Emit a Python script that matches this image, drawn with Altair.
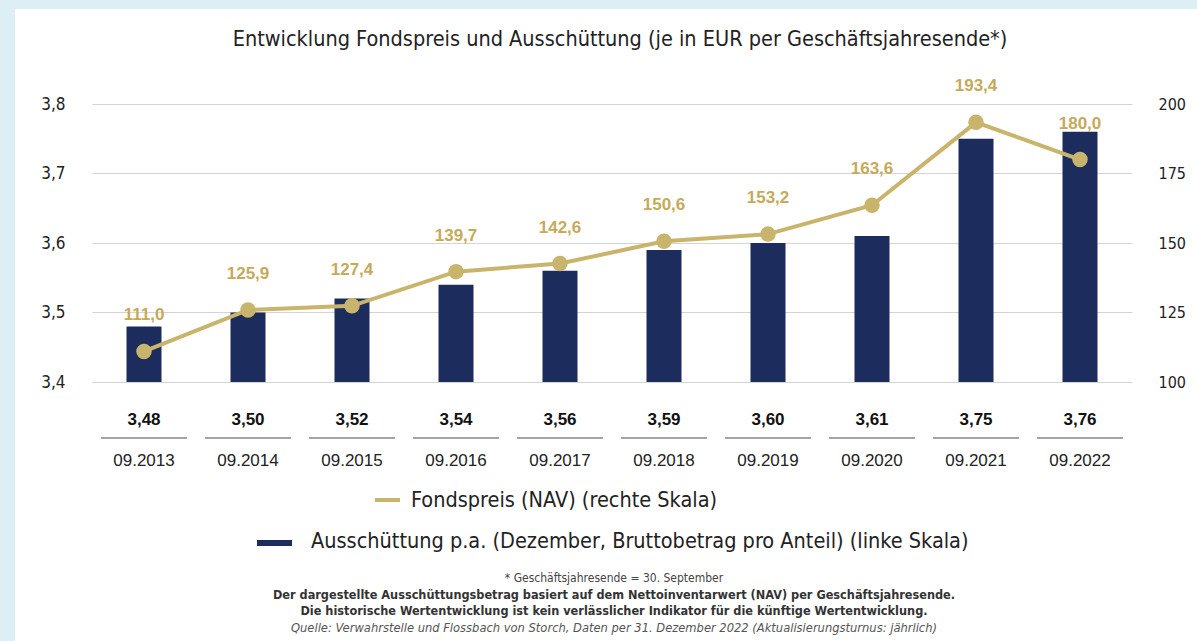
import altair as alt
import pandas as pd

# ---- data ----
years = ["09.2013", "09.2014", "09.2015", "09.2016", "09.2017",
         "09.2018", "09.2019", "09.2020", "09.2021", "09.2022"]
distribution = [3.48, 3.50, 3.52, 3.54, 3.56, 3.59, 3.60, 3.61, 3.75, 3.76]
nav = [111.0, 125.9, 127.4, 139.7, 142.6, 150.6, 153.2, 163.6, 193.4, 180.0]
left_ticks = [3.4, 3.5, 3.6, 3.7, 3.8]
right_ticks = [100, 125, 150, 175, 200]

title_text = "Entwicklung Fondspreis und Ausschüttung  (je in EUR per Geschäftsjahresende*)"
legend_nav = "Fondspreis (NAV) (rechte Skala)"
legend_dist = "Ausschüttung p.a. (Dezember, Bruttobetrag pro Anteil) (linke Skala)"
foot1 = "* Geschäftsjahresende = 30. September"
foot2 = "Der dargestellte Ausschüttungsbetrag basiert auf dem Nettoinventarwert (NAV) per Geschäftsjahresende."
foot3 = "Die historische Wertentwicklung ist kein verlässlicher Indikator für die künftige Wertentwicklung."
foot4 = "Quelle: Verwahrstelle und Flossbach von Storch, Daten per 31. Dezember 2022 (Aktualisierungsturnus: jährlich)"

# ---- style ----
NAVY = "#1c2c5c"
GOLD = "#c9b46c"
GOLD_TXT = "#c6aa5a"
BLUE_BG = "#ddeef4"
TXT = "#222222"
NARROW = "Liberation Sans Narrow, DejaVu Sans Condensed, sans-serif"
SANS = "Liberation Sans, Arial, sans-serif"

W, H = 1023, 278

df = pd.DataFrame({"year": years, "dist": distribution, "nav": nav})
df["dist_label"] = [f"{v:.2f}".replace(".", ",") for v in distribution]
df["nav_label"] = [f"{v:.1f}".replace(".", ",") for v in nav]
one = pd.DataFrame({"k": [0]})

xenc = alt.X("year:N", sort=years,
             scale=alt.Scale(range=[-8, 1032], paddingInner=0, paddingOuter=0),
             axis=None)

base = alt.Chart(df)

# background strips (light blue frame on the left and top)
strip_left = alt.Chart(one).mark_rect(color=BLUE_BG).encode(
    x=alt.value(-100), x2=alt.value(-85), y=alt.value(-104), y2=alt.value(537))
strip_top = alt.Chart(one).mark_rect(color=BLUE_BG).encode(
    x=alt.value(-100), x2=alt.value(1097), y=alt.value(-104), y2=alt.value(-95))

left_axis = alt.Axis(values=left_ticks,
                     labelExpr="replace(format(datum.value, '.1f'), '.', ',')",
                     grid=True, gridColor="#d4d4d4", gridWidth=1,
                     domain=False, ticks=False, labelPadding=35,
                     labelFont=NARROW, labelFontSize=17, labelColor=TXT, title=None)
right_axis = alt.Axis(orient="right", values=right_ticks, format="d",
                      grid=False, domain=False, ticks=False, labelPadding=35,
                      labelFont=NARROW, labelFontSize=16, labelColor=TXT, title=None)

bars = base.mark_bar(size=35, color=NAVY).encode(
    x=xenc,
    y=alt.Y("dist:Q", scale=alt.Scale(domain=[3.4, 3.8], zero=False, nice=False),
            axis=left_axis),
    y2=alt.datum(3.4),
)

ynav = alt.Y("nav:Q", scale=alt.Scale(domain=[100, 200], zero=False, nice=False),
             axis=right_axis)
line = base.mark_line(color=GOLD, strokeWidth=4).encode(x=xenc, y=ynav)
pts = base.mark_circle(size=240, color=GOLD, opacity=1).encode(x=xenc, y=ynav)
navlab = base.mark_text(dy=-36, font=SANS, fontSize=17, fontWeight="bold",
                        color=GOLD_TXT).encode(x=xenc, y=ynav, text="nav_label:N")
right_layer = alt.layer(line, pts, navlab)

# table below the chart
vals = base.mark_text(font=SANS, fontSize=17, fontWeight="bold", color="#111",
                      baseline="middle").encode(
    x=xenc, y=alt.value(316), text="dist_label:N")
underline = base.mark_tick(orient="horizontal", size=86, thickness=1.5,
                           color="#555555").encode(x=xenc, y=alt.value(334))
yearlab = base.mark_text(font=SANS, fontSize=17, color=TXT, baseline="middle").encode(
    x=xenc, y=alt.value(357), text="year:N")


def label(text, x, y, size, align="center", weight="normal", style="normal",
          color=TXT, font=NARROW):
    return alt.Chart(one).mark_text(text=text, align=align, baseline="middle",
                                    fontSize=size, fontWeight=weight,
                                    fontStyle=style, color=color, font=font).encode(
        x=alt.value(x), y=alt.value(y))


title = label(title_text, 520, -64, 21.5)

leg_line = alt.Chart(one).mark_rule(color=GOLD, strokeWidth=4).encode(
    x=alt.value(275), x2=alt.value(300), y=alt.value(396))
leg_line_txt = label(legend_nav, 311, 397, 21.5, align="left")
leg_rect = alt.Chart(one).mark_rect(color=NAVY).encode(
    x=alt.value(157), x2=alt.value(192), y=alt.value(436), y2=alt.value(442))
leg_rect_txt = label(legend_dist, 211, 438, 21.5, align="left")

f1 = label(foot1, 514, 474, 12, color="#444")
f2 = label(foot2, 514, 491, 12.6, weight="bold", color="#333")
f3 = label(foot3, 514, 507, 12.6, weight="bold", color="#333")
f4 = label(foot4, 514, 524, 12.8, style="italic", color="#555")

chart = alt.layer(
    strip_left, strip_top, bars, right_layer,
    vals, underline, yearlab, title,
    leg_line, leg_line_txt, leg_rect, leg_rect_txt,
    f1, f2, f3, f4,
).resolve_scale(y="independent").properties(
    width=W, height=H, padding=0, background="white"
).configure_view(stroke=None)

chart.save("out.html", embed_options={"renderer": "svg", "actions": False})
